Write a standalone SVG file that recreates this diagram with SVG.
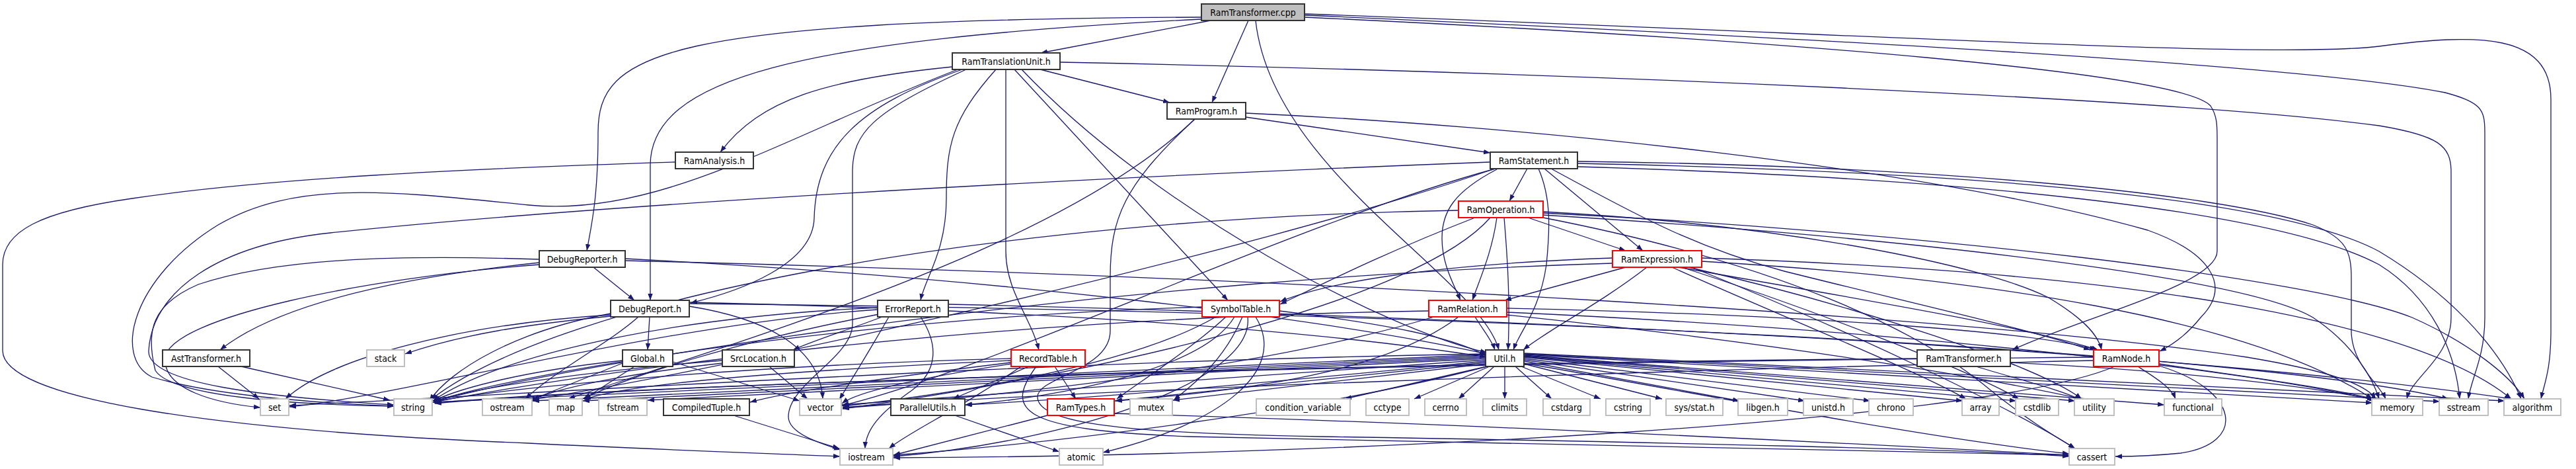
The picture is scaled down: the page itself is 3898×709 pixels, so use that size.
<svg xmlns="http://www.w3.org/2000/svg" width="3898" height="709" viewBox="0 0 3898 709">
<style>
.e{fill:none;stroke:#191970;stroke-width:1.3;marker-end:url(#a)}
.n rect{fill:#fff;stroke:#333;stroke-width:2}
.r rect{stroke:#f00}
.l rect{stroke:#bfbfbf}
.g rect{fill:#bfbfbf}
text{font-family:'DejaVu Sans Condensed','DejaVu Sans',sans-serif;font-size:14px;text-anchor:middle;fill:#000}
</style>
<defs>
<marker id="a" markerUnits="userSpaceOnUse" markerWidth="11" markerHeight="8" refX="10" refY="3.7" orient="auto">
<path d="M0,0 L10,3.7 L0,7.4 z" fill="#191970"/>
</marker>
</defs>
<rect width="3898" height="709" fill="#fff"/>
<g id="edges">
<path class="e" d="M1832,31 L1575,80"/>
<path class="e" d="M1889,31 L1834,155"/>
<path class="e" d="M1900,31 C1925,260 2240,420 2268,529"/>
<path class="e" d="M1818,26 C1000,30 905,80 905,200 C905,300 895,340 888,379"/>
<path class="e" d="M1818,29 C1200,60 984,120 984,250 L984,454"/>
<path class="e" d="M1974,26 C2700,60 3300,110 3345,160 C3355,175 3355,190 3355,210 L3355,380 C3355,430 3150,480 3045,529"/>
<path class="e" d="M1974,21 C2800,50 3430,90 3600,70 C3750,50 3860,50 3860,150 L3860,500 C3860,560 3850,580 3845,603"/>
<path class="e" d="M1974,23 C2800,60 3500,100 3700,140 C3755,155 3760,165 3760,200 L3760,480 C3760,540 3740,570 3735,603"/>
<path class="e" d="M1574,105 L1770,155"/>
<path class="e" d="M1441,101 C1250,120 1150,150 1090,230"/>
<path class="e" d="M1604,94 C2400,110 3300,150 3600,190 C3690,205 3709,220 3709,260 L3709,480 C3709,540 3650,570 3642,603"/>
<path class="e" d="M1507,105 C1440,180 1432,220 1432,300 C1432,380 1400,420 1393,454"/>
<path class="e" d="M1522,105 L1522,380 C1522,440 1560,480 1572,529"/>
<path class="e" d="M1535,105 L1858,454"/>
<path class="e" d="M1546,105 C1750,320 2100,500 2250,533"/>
<path class="e" d="M1456,105 C1300,160 1235,220 1232,330 C1230,400 1120,440 1045,458"/>
<path class="e" d="M1452,104 C1200,200 1000,330 800,310 C600,290 450,270 330,340 C200,420 170,540 230,570 C330,600 500,610 596,614"/>
<path class="e" d="M1462,105 C1320,170 1290,200 1290,260 L1290,490 C1290,540 1193,580 1193,630 C1193,655 1240,670 1272,680"/>
<path class="e" d="M1022,245 C700,255 400,270 200,300 C60,320 4,350 4,400 L4,530 C4,600 300,650 800,670 C1000,680 1150,685 1271,690"/>
<path class="e" d="M1885,177 L2255,231"/>
<path class="e" d="M1885,171 C2300,190 2900,250 3250,348 C3340,380 3380,430 3330,480 C3310,505 3290,520 3268,531"/>
<path class="e" d="M1808,180 C1600,380 1100,520 860,603"/>
<path class="e" d="M1808,180 C1700,280 1680,330 1680,420 L1680,500 C1680,560 1570,570 1570,600 C1570,640 1700,655 2000,660 C2500,668 3000,680 3131,690"/>
<path class="e" d="M2311,255 L2284,304"/>
<path class="e" d="M2265,256 C2200,290 2182,320 2182,360 C2182,400 2200,430 2210,454"/>
<path class="e" d="M2328,255 C2348,300 2345,350 2340,400 C2330,470 2300,500 2290,529"/>
<path class="e" d="M2337,255 L2486,379"/>
<path class="e" d="M2347,255 C2450,310 2550,370 2700,410 C2900,460 3080,500 3163,529"/>
<path class="e" d="M2387,244 C2900,250 3350,290 3500,340 C3550,360 3558,380 3558,420 L3558,500 C3558,550 3600,580 3610,603"/>
<path class="e" d="M2387,247 C3000,260 3450,300 3600,380 C3700,440 3780,520 3815,603"/>
<path class="e" d="M2387,252 C3000,270 3450,320 3600,400 C3680,450 3715,530 3722,603"/>
<path class="e" d="M2255,245 C1600,270 900,310 500,352 C330,370 230,440 225,530 C222,580 400,600 596,612"/>
<path class="e" d="M2263,255 C1950,340 1500,560 1274,613"/>
<path class="e" d="M2259,256 C1900,380 1100,560 800,605"/>
<path class="e" d="M2312,329 L2460,379"/>
<path class="e" d="M2265,329 C2258,380 2240,420 2228,454"/>
<path class="e" d="M2276,329 C2282,400 2285,460 2282,529"/>
<path class="e" d="M2232,329 C2100,380 2000,430 1937,460"/>
<path class="e" d="M2255,329 C2150,450 1700,560 1275,618"/>
<path class="e" d="M2207,318 C1500,330 850,450 652,604"/>
<path class="e" d="M2335,320 C2700,340 3000,400 3100,450 C3150,480 3175,505 3180,529"/>
<path class="e" d="M2335,325 C2900,360 3400,420 3500,480 C3560,520 3590,570 3600,603"/>
<path class="e" d="M2335,329 C2700,400 2900,500 3000,580 C3060,630 3110,660 3140,678"/>
<path class="e" d="M2335,322 C2900,350 3500,420 3650,480 C3740,520 3800,570 3820,603"/>
<path class="e" d="M898,404 L960,454"/>
<path class="e" d="M816,397 C600,420 420,460 333,529"/>
<path class="e" d="M816,392 C600,385 420,390 300,430 C230,460 220,500 235,560 C260,600 450,612 596,614"/>
<path class="e" d="M816,400 C550,420 260,480 250,540 C245,590 330,610 394,616"/>
<path class="e" d="M946,391 C1500,420 2000,480 2249,535"/>
<path class="e" d="M946,394 C2000,420 3000,480 3400,540 C3520,560 3580,580 3595,603"/>
<path class="e" d="M983,479 L980,529"/>
<path class="e" d="M966,479 C920,520 840,560 795,603"/>
<path class="e" d="M924,474 C780,500 680,560 650,606"/>
<path class="e" d="M924,476 C700,490 500,540 432,603"/>
<path class="e" d="M924,478 C800,490 700,505 613,535"/>
<path class="e" d="M1043,463 C1150,480 1240,520 1245,603"/>
<path class="e" d="M1043,459 C2200,470 3400,530 3705,603"/>
<path class="e" d="M1043,457 C1600,470 2000,500 2249,540"/>
<path class="e" d="M1335,479 C1280,500 1230,515 1200,529"/>
<path class="e" d="M1393,479 C1420,520 1420,560 1380,590 C1330,625 1310,650 1309,678"/>
<path class="e" d="M1328,465 C1000,480 750,540 655,606"/>
<path class="e" d="M1328,468 C1000,490 600,600 438,615"/>
<path class="e" d="M1345,479 C1310,540 1285,580 1270,604"/>
<path class="e" d="M1330,475 C1100,520 950,570 882,603"/>
<path class="e" d="M1435,460 C2300,480 3300,530 3800,603"/>
<path class="e" d="M1936,470 C2100,490 2200,510 2249,538"/>
<path class="e" d="M1855,479 C1800,530 1720,580 1690,603"/>
<path class="e" d="M1868,479 C1820,560 1600,600 1461,612"/>
<path class="e" d="M1819,464 C1300,480 800,560 656,607"/>
<path class="e" d="M1840,479 C1700,560 1400,600 1275,614"/>
<path class="e" d="M1888,479 C1900,580 1600,670 1352,690"/>
<path class="e" d="M1900,479 C1950,560 1850,640 1669,684"/>
<path class="e" d="M1880,479 C1850,550 1800,585 1776,605"/>
<path class="e" d="M2232,479 C2245,500 2258,515 2262,529"/>
<path class="e" d="M2207,479 C2100,560 1900,590 1688,606"/>
<path class="e" d="M2162,470 C1500,480 900,560 656,608"/>
<path class="e" d="M2280,466 C2700,475 3080,500 3172,529"/>
<path class="e" d="M2280,472 C2900,500 3400,560 3595,605"/>
<path class="e" d="M2280,476 C2700,520 3000,570 3150,603"/>
<path class="e" d="M2170,479 C1900,560 1500,600 1275,616"/>
<path class="e" d="M2460,404 L2277,454"/>
<path class="e" d="M2492,404 C2420,460 2340,500 2305,529"/>
<path class="e" d="M2440,390 C2150,400 2000,430 1937,456"/>
<path class="e" d="M2540,404 C2800,450 3050,490 3175,529"/>
<path class="e" d="M2575,395 C3000,420 3400,480 3590,603"/>
<path class="e" d="M2575,390 C3200,410 3650,480 3800,603"/>
<path class="e" d="M2440,398 C1700,420 900,540 658,607"/>
<path class="e" d="M2530,404 C2700,480 2900,560 2975,603"/>
<path class="e" d="M2545,404 C2750,470 2980,560 3055,603"/>
<path class="e" d="M2555,404 C2800,460 3080,550 3150,603"/>
<path class="e" d="M2560,404 C2800,500 3050,620 3140,678"/>
<path class="e" d="M3235,554 C3260,570 3285,585 3292,603"/>
<path class="e" d="M3267,550 C3400,570 3550,590 3598,605"/>
<path class="e" d="M3267,553 C3390,590 3400,670 3300,685 C3250,690 3220,690 3201,690"/>
<path class="e" d="M3168,545 C2500,560 1600,590 1275,617"/>
<path class="e" d="M3168,540 C2000,550 1000,580 657,609"/>
<path class="e" d="M3200,554 C3000,640 2000,690 1352,692"/>
<path class="e" d="M2901,542 C2000,550 1000,580 658,610"/>
<path class="e" d="M2990,554 C3060,575 3120,590 3150,605"/>
<path class="e" d="M3042,548 C3300,560 3500,585 3592,604"/>
<path class="e" d="M2250,554 L2035,603"/>
<path class="e" d="M2254,554 L2140,603"/>
<path class="e" d="M2261,554 L2207,603"/>
<path class="e" d="M2277,554 L2277,603"/>
<path class="e" d="M2293,554 L2348,603"/>
<path class="e" d="M2302,554 L2422,603"/>
<path class="e" d="M2306,550 L2515,603"/>
<path class="e" d="M2306,546 L2632,606"/>
<path class="e" d="M2306,544 L2731,606"/>
<path class="e" d="M2306,542 L2830,606"/>
<path class="e" d="M2306,540 L2970,606"/>
<path class="e" d="M2306,539 L3051,606"/>
<path class="e" d="M2306,538 L3140,606"/>
<path class="e" d="M2306,537 L3275,612"/>
<path class="e" d="M2306,536 L3590,609"/>
<path class="e" d="M2306,535 L3692,607"/>
<path class="e" d="M2306,534 L3790,606"/>
<path class="e" d="M2306,549 C2600,600 2900,660 3131,686"/>
<path class="e" d="M2248,550 L1775,605"/>
<path class="e" d="M2248,548 L1687,606"/>
<path class="e" d="M2248,546 C2000,570 1700,600 1460,612"/>
<path class="e" d="M2248,544 L1274,612"/>
<path class="e" d="M2248,542 L980,605"/>
<path class="e" d="M2248,540 L882,606"/>
<path class="e" d="M2248,538 L806,606"/>
<path class="e" d="M2248,536 L655,608"/>
<path class="e" d="M2248,535 C1600,545 900,590 438,613"/>
<path class="e" d="M2250,554 C2000,620 1600,670 1352,688"/>
<path class="e" d="M1557,554 L1442,603"/>
<path class="e" d="M1596,554 L1628,603"/>
<path class="e" d="M1530,548 C1350,570 1200,590 1135,608"/>
<path class="e" d="M1568,554 C1520,620 1540,650 1800,660 C2400,670 2900,680 3131,688"/>
<path class="e" d="M1530,545 C1200,560 950,580 884,604"/>
<path class="e" d="M1530,550 C1400,570 1300,590 1274,610"/>
<path class="e" d="M1545,554 C1450,620 1380,650 1345,678"/>
<path class="e" d="M1530,542 C1200,550 800,580 657,607"/>
<path class="e" d="M942,545 C800,560 700,585 656,606"/>
<path class="e" d="M960,554 L884,603"/>
<path class="e" d="M1018,547 L1210,606"/>
<path class="e" d="M942,549 L800,606"/>
<path class="e" d="M1093,545 C900,560 720,585 656,607"/>
<path class="e" d="M1164,554 L1222,603"/>
<path class="e" d="M1093,549 C950,565 850,585 806,604"/>
<path class="e" d="M330,554 L392,603"/>
<path class="e" d="M365,554 L590,605"/>
<path class="e" d="M1110,628 L1270,678"/>
<path class="e" d="M1445,628 L1603,683"/>
<path class="e" d="M1585,628 L1352,688"/>
<path class="e" d="M1686,625 C2200,640 2800,670 3131,688"/>
</g>
<g id="node-RamTransformer-cpp" class="n g"><rect x="1818" y="6" width="156" height="25"/><text x="1896" y="23.5">RamTransformer.cpp</text></g>
<g id="node-RamTranslationUnit" class="n"><rect x="1441" y="80" width="163" height="25"/><text x="1522.5" y="97.5">RamTranslationUnit.h</text></g>
<g id="node-RamProgram" class="n"><rect x="1766" y="155" width="119" height="25"/><text x="1825.5" y="172.5">RamProgram.h</text></g>
<g id="node-RamAnalysis" class="n"><rect x="1022" y="230" width="118" height="25"/><text x="1081" y="247.5">RamAnalysis.h</text></g>
<g id="node-RamStatement" class="n"><rect x="2255" y="230" width="132" height="25"/><text x="2321" y="247.5">RamStatement.h</text></g>
<g id="node-RamOperation" class="n r"><rect x="2207" y="304" width="128" height="25"/><text x="2271" y="321.5">RamOperation.h</text></g>
<g id="node-DebugReporter" class="n"><rect x="816" y="379" width="130" height="25"/><text x="881" y="396.5">DebugReporter.h</text></g>
<g id="node-RamExpression" class="n r"><rect x="2440" y="379" width="135" height="25"/><text x="2507.5" y="396.5">RamExpression.h</text></g>
<g id="node-DebugReport" class="n"><rect x="924" y="454" width="119" height="25"/><text x="983.5" y="471.5">DebugReport.h</text></g>
<g id="node-ErrorReport" class="n"><rect x="1328" y="454" width="107" height="25"/><text x="1381.5" y="471.5">ErrorReport.h</text></g>
<g id="node-SymbolTable" class="n r"><rect x="1819" y="454" width="117" height="25"/><text x="1877.5" y="471.5">SymbolTable.h</text></g>
<g id="node-RamRelation" class="n r"><rect x="2162" y="454" width="118" height="25"/><text x="2221" y="471.5">RamRelation.h</text></g>
<g id="node-AstTransformer" class="n"><rect x="246" y="529" width="132" height="25"/><text x="312" y="546.5">AstTransformer.h</text></g>
<g id="node-stack" class="n l"><rect x="555" y="529" width="57" height="25"/><text x="583.5" y="546.5">stack</text></g>
<g id="node-Global" class="n"><rect x="942" y="529" width="76" height="25"/><text x="980" y="546.5">Global.h</text></g>
<g id="node-SrcLocation" class="n"><rect x="1093" y="529" width="109" height="25"/><text x="1147.5" y="546.5">SrcLocation.h</text></g>
<g id="node-RecordTable" class="n r"><rect x="1530" y="529" width="112" height="25"/><text x="1586" y="546.5">RecordTable.h</text></g>
<g id="node-Util" class="n"><rect x="2248" y="529" width="58" height="25"/><text x="2277" y="546.5">Util.h</text></g>
<g id="node-RamTransformer-h" class="n"><rect x="2901" y="529" width="141" height="25"/><text x="2971.5" y="546.5">RamTransformer.h</text></g>
<g id="node-RamNode" class="n r"><rect x="3168" y="529" width="99" height="25"/><text x="3217.5" y="546.5">RamNode.h</text></g>
<g id="node-set" class="n l"><rect x="394" y="603" width="43" height="25"/><text x="415.5" y="620.5">set</text></g>
<g id="node-string" class="n l"><rect x="596" y="603" width="58" height="25"/><text x="625" y="620.5">string</text></g>
<g id="node-ostream" class="n l"><rect x="730" y="603" width="75" height="25"/><text x="767.5" y="620.5">ostream</text></g>
<g id="node-map" class="n l"><rect x="831" y="603" width="50" height="25"/><text x="856" y="620.5">map</text></g>
<g id="node-fstream" class="n l"><rect x="906" y="603" width="73" height="25"/><text x="942.5" y="620.5">fstream</text></g>
<g id="node-CompiledTuple" class="n"><rect x="1004" y="603" width="130" height="25"/><text x="1069" y="620.5">CompiledTuple.h</text></g>
<g id="node-vector" class="n l"><rect x="1210" y="603" width="63" height="25"/><text x="1241.5" y="620.5">vector</text></g>
<g id="node-ParallelUtils" class="n"><rect x="1348" y="603" width="112" height="25"/><text x="1404" y="620.5">ParallelUtils.h</text></g>
<g id="node-RamTypes" class="n r"><rect x="1585" y="603" width="101" height="25"/><text x="1635.5" y="620.5">RamTypes.h</text></g>
<g id="node-mutex" class="n l"><rect x="1710" y="603" width="64" height="25"/><text x="1742" y="620.5">mutex</text></g>
<g id="node-condition_variable" class="n l"><rect x="1901" y="603" width="142" height="25"/><text x="1972" y="620.5">condition_variable</text></g>
<g id="node-cctype" class="n l"><rect x="2067" y="603" width="65" height="25"/><text x="2099.5" y="620.5">cctype</text></g>
<g id="node-cerrno" class="n l"><rect x="2156" y="603" width="63" height="25"/><text x="2187.5" y="620.5">cerrno</text></g>
<g id="node-climits" class="n l"><rect x="2244" y="603" width="66" height="25"/><text x="2277" y="620.5">climits</text></g>
<g id="node-cstdarg" class="n l"><rect x="2335" y="603" width="71" height="25"/><text x="2370.5" y="620.5">cstdarg</text></g>
<g id="node-cstring" class="n l"><rect x="2430" y="603" width="67" height="25"/><text x="2463.5" y="620.5">cstring</text></g>
<g id="node-sys-stat" class="n l"><rect x="2521" y="603" width="86" height="25"/><text x="2564" y="620.5">sys/stat.h</text></g>
<g id="node-libgen" class="n l"><rect x="2630" y="603" width="75" height="25"/><text x="2667.5" y="620.5">libgen.h</text></g>
<g id="node-unistd" class="n l"><rect x="2729" y="603" width="75" height="25"/><text x="2766.5" y="620.5">unistd.h</text></g>
<g id="node-chrono" class="n l"><rect x="2828" y="603" width="67" height="25"/><text x="2861.5" y="620.5">chrono</text></g>
<g id="node-array" class="n l"><rect x="2969" y="603" width="56" height="25"/><text x="2997" y="620.5">array</text></g>
<g id="node-cstdlib" class="n l"><rect x="3050" y="603" width="65" height="25"/><text x="3082.5" y="620.5">cstdlib</text></g>
<g id="node-utility" class="n l"><rect x="3139" y="603" width="60" height="25"/><text x="3169" y="620.5">utility</text></g>
<g id="node-functional" class="n l"><rect x="3275" y="603" width="87" height="25"/><text x="3318.5" y="620.5">functional</text></g>
<g id="node-memory" class="n l"><rect x="3589" y="603" width="77" height="25"/><text x="3627.5" y="620.5">memory</text></g>
<g id="node-sstream" class="n l"><rect x="3691" y="603" width="74" height="25"/><text x="3728" y="620.5">sstream</text></g>
<g id="node-algorithm" class="n l"><rect x="3789" y="603" width="86" height="25"/><text x="3832" y="620.5">algorithm</text></g>
<g id="node-iostream" class="n l"><rect x="1271" y="678" width="80" height="25"/><text x="1311" y="695.5">iostream</text></g>
<g id="node-atomic" class="n l"><rect x="1603" y="678" width="66" height="25"/><text x="1636" y="695.5">atomic</text></g>
<g id="node-cassert" class="n l"><rect x="3131" y="678" width="69" height="25"/><text x="3165.5" y="695.5">cassert</text></g>
</svg>
